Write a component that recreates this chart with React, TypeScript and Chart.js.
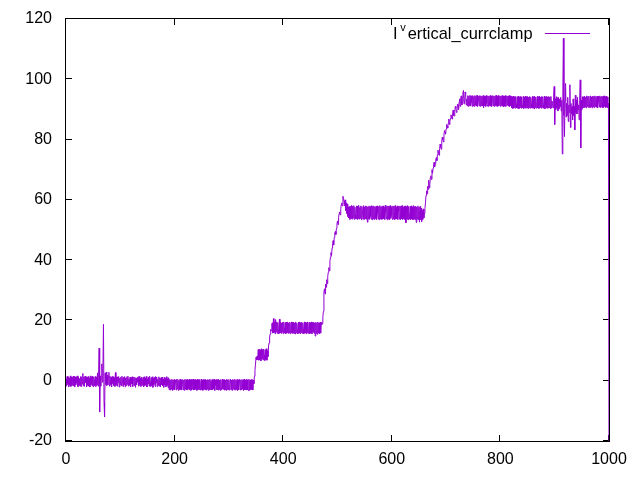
import React, { useEffect, useRef } from "react";
import { Chart, registerables } from "chart.js";

Chart.register(...registerables);

// ---- data ----
const X_STEP = 1;
const xTickValues = [0, 200, 400, 600, 800, 1000];
const yTickValues = [-20, 0, 20, 40, 60, 80, 100, 120];
const seriesLabel = "Iᵛertical_currclamp";
const labelBase = "I";
const labelSup = "v";
const labelRest = "ertical_currclamp";
const lineColor = "#9400D3";

// x 0..59
const baselineA = [0.5, -1.8, 1.4, -1.2, 1.3, -2.0, 0.9, -1.5, 1.6, -1.9,
  1.2, -1.6, 0.3, 1.4, -1.7, 1.5, -2.1, 1.1, -1.4, 1.3,
  -0.8, 1.6, -2.0, 1.2, -1.6, 0.7, -1.8, 1.4, -1.9, 1.3,
  -1.1, 2.4, -1.7, 1.2, -1.9, 1.5, -0.6, 1.3, -2.0, 1.1,
  -1.5, 1.4, -1.8, 0.9, -2.1, 1.6, -1.3, 1.2, -1.7, 1.5,
  -2.0, 1.3, 0.2, -1.6, 1.4, -1.9, 1.1, -1.4, 2.6, -1.8];
// x 60..76
const spikeA = [1.2, 10.8, -10.4, 1.5, -1.8, 2.0, 5.6, -0.5, 4.0, 18.7,
  -7.2, -12.0, 2.5, -1.2, 2.9, -1.6, 1.8];
// x 77..189
const baselineB = [-1.4, 1.2, 2.8, -1.8, 1.5, -1.3, 1.1, -2.0, 1.4, -0.9,
  1.3, -1.6, 1.0, -1.9, 2.7, -1.5, 1.2, -1.8, 1.3, -0.6,
  1.4, -2.1, 0.8, -1.4, 1.2, -1.7, 1.5, 0.2, -1.9, 1.1,
  -1.3, 1.4, -2.0, 0.9, -1.6, 1.3, -1.2, 1.5, -1.8, 0.6,
  -1.5, 1.2, -2.0, 1.0, -1.1, 1.3, -1.9, 0.4, 1.2, -1.6,
  1.1, -2.2, 0.8, -1.4, 1.0, -0.5, 1.3, -1.8, 1.4, -1.2,
  0.7, -1.9, 1.2, -1.5, 0.3, 1.1, -2.0, 1.3, -1.7, 0.9,
  -1.3, 1.4, -2.1, 0.6, -1.0, 1.2, -1.8, 1.5, -0.4, -1.9,
  1.0, -1.6, 1.3, -2.2, 0.8, -1.2, 1.1, -1.9, 1.4, -0.7,
  1.2, -2.0, 0.5, -1.5, 1.3, -1.8, 0.9, -2.1, 1.0, -1.3,
  1.2, -1.7, 0.4, -2.2, 1.1, -1.4, 0.8, -2.0, 1.3, -1.6,
  0.6, -2.3, 1.0];
// x 190..345
const baselineC = [-3.0, 0.4, -3.1, 0.3, -2.8, 0.5, -3.2, 0.2, -2.9, 0.4,
  -3.0, -0.5, 0.3, -3.1, 0.5, -2.7, 0.4, -3.2, 0.1, -3.0,
  0.5, -2.9, 0.3, -3.1, -1.0, 0.4, -3.0, 0.2, -3.2, 0.5,
  -2.8, 0.3, -3.0, 0.4, -3.1, 0.2, -2.6, 0.5, -3.0, 0.3,
  -3.2, 0.4, -2.9, -0.2, 0.5, -3.1, 0.3, -3.0, 0.4, -2.8,
  0.2, -3.2, 0.5, -3.0, 0.3, -2.9, 0.4, -3.1, -0.8, 0.5,
  -3.0, 0.2, -3.2, 0.4, -2.9, 0.3, -3.0, 0.5, -3.1, 0.2,
  -2.8, 0.4, -3.2, 0.3, -3.0, 0.5, -2.9, 0.1, -3.1, 0.4,
  -3.0, 0.3, -2.7, 0.5, -3.2, 0.2, -1.5, 0.4, -3.0, 0.3,
  -3.1, 0.5, -2.9, 0.2, -3.2, 0.4, -3.0, -0.3, 0.5, -2.8,
  0.3, -3.1, 0.4, -3.0, 0.2, -3.2, 0.5, -2.9, 0.3, -3.0,
  0.4, -3.1, -1.2, 0.5, -3.0, 0.2, -3.2, 0.4, -2.8, 0.3,
  -3.0, 0.5, -3.1, 0.2, -2.9, 0.4, -3.2, 0.3, -3.0, -0.6,
  0.5, -3.1, 0.2, -3.0, 0.4, -2.8, 0.3, -3.2, 0.5, -3.0,
  0.2, -2.9, 0.4, -3.1, 0.3, -3.0, -3.3, 0.5, -3.2, 0.2,
  -3.0, 0.4, -2.9, 0.3, -3.1, 0.1];
// x 346..379
const stepOne = [-1.0, 1.5, 3.5, 5.5, 7.8, 6.9, 8.2, 7.0, 10.3, 6.8,
  10.5, 7.0, 10.2, 6.6, 10.6, 7.2, 10.4, 6.9, 10.5, 8.5,
  6.7, 10.3, 7.0, 10.6, 6.8, 9.9, 8.0, 11.5, 12.5, 14.5,
  15.5, 17.0, 16.5, 18.8];
// x 380..471
const stepTwo = [19.2, 15.8, 20.6, 16.0, 19.4, 15.6, 20.3, 16.2, 19.5, 15.7,
  19.3, 17.0, 15.6, 20.4, 15.9, 19.5, 15.7, 19.2, 16.1, 19.4,
  15.6, 19.5, 17.5, 15.8, 19.3, 15.6, 19.4, 16.0, 19.5, 15.7,
  19.2, 15.9, 19.4, 15.6, 18.5, 19.5, 15.8, 19.3, 15.7, 19.4,
  15.7, 19.2, 15.5, 19.5, 15.9, 19.1, 16.8, 15.6, 19.4, 15.8,
  19.5, 15.6, 19.3, 16.0, 19.4, 15.7, 19.2, 17.2, 15.6, 19.5,
  15.8, 19.4, 15.6, 19.3, 15.9, 19.5, 15.7, 18.0, 19.4, 15.6,
  19.2, 15.8, 19.5, 15.6, 19.3, 16.1, 19.4, 15.7, 19.2, 14.8,
  19.4, 15.7, 19.2, 15.4, 19.5, 15.9, 19.1, 15.6, 19.4, 15.8,
  19.3, 18.6];
// x 472..522
const rampOne = [19.0, 21.0, 23.0, 29.5, 30.5, 28.8, 32.0, 31.0, 33.5, 32.2,
  34.5, 36.0, 37.5, 36.5, 39.5, 41.0, 42.5, 41.5, 44.0, 45.5,
  46.5, 45.0, 47.5, 49.0, 49.5, 48.5, 50.5, 52.0, 53.0, 51.8,
  54.0, 55.5, 56.0, 55.0, 57.0, 58.5, 59.0, 58.0, 61.2, 60.5,
  59.5, 58.0, 60.0, 56.5, 59.0, 55.5, 58.5, 54.5, 57.5, 54.0,
  57.8];
// x 523..659
const plateauOne = [53.5, 57.8, 53.8, 58.2, 53.6, 57.9, 54.0, 58.1, 53.5, 57.6,
  55.0, 53.7, 58.0, 53.5, 57.9, 53.8, 58.2, 53.6, 57.5, 53.9,
  58.0, 53.4, 57.8, 56.0, 53.6, 58.1, 53.5, 57.7, 53.8, 58.0,
  53.6, 57.9, 52.6, 57.6, 53.7, 58.0, 53.5, 57.8, 54.5, 53.6,
  58.1, 53.4, 57.9, 53.7, 58.0, 53.5, 57.6, 53.8, 57.9, 53.5,
  58.0, 55.5, 53.6, 57.8, 53.4, 58.1, 53.7, 57.7, 53.5, 57.9,
  53.6, 58.0, 53.8, 57.6, 53.5, 58.2, 55.8, 53.7, 57.9, 53.4,
  58.0, 53.6, 57.8, 53.5, 58.1, 53.9, 57.7, 54.8, 53.5, 58.0,
  53.7, 57.9, 53.4, 58.1, 53.6, 57.5, 53.8, 58.0, 53.5, 57.8,
  56.2, 53.6, 58.0, 53.4, 57.9, 53.7, 58.1, 53.5, 57.6, 53.8,
  57.9, 53.5, 58.0, 52.4, 57.7, 53.6, 58.1, 53.4, 57.8, 55.2,
  53.6, 57.9, 53.5, 58.0, 53.7, 57.6, 53.4, 58.1, 53.6, 57.8,
  53.5, 57.9, 52.5, 57.6, 53.6, 58.0, 53.4, 57.5, 52.6, 57.8,
  53.5, 57.2, 52.8, 56.5, 53.5, 57.0, 54.0];
// x 660..737
const rampTwo = [55.5, 57.0, 59.0, 61.5, 63.0, 62.0, 64.5, 63.5, 66.5, 64.0,
  65.0, 67.5, 68.0, 66.8, 70.0, 68.8, 70.5, 71.8, 72.5, 71.0,
  72.0, 73.5, 74.0, 73.0, 75.0, 76.5, 75.5, 74.8, 77.0, 78.5,
  77.5, 76.8, 79.5, 80.8, 80.0, 79.2, 81.5, 83.0, 82.5, 81.8,
  83.5, 85.0, 84.5, 83.8, 85.5, 86.8, 85.0, 86.0, 87.0, 88.2,
  87.5, 86.8, 88.5, 89.8, 88.0, 87.8, 89.5, 91.0, 90.5, 89.0,
  89.5, 91.8, 91.5, 90.0, 92.5, 93.5, 91.0, 93.8, 94.5, 91.5,
  92.5, 95.5, 96.3, 91.8, 92.0, 95.8, 95.0, 91.5];
// x 738..819
const plateauTopA = [93.5, 91.2, 94.6, 91.0, 94.4, 91.3, 94.7, 91.1, 94.5, 92.5,
  91.0, 94.6, 91.2, 94.3, 91.0, 94.6, 91.4, 94.5, 91.1, 94.7,
  91.0, 93.0, 94.4, 91.2, 94.6, 91.0, 94.5, 91.3, 94.4, 91.1,
  94.6, 90.6, 94.5, 91.2, 94.3, 91.0, 94.6, 92.0, 91.1, 94.5,
  91.0, 94.4, 91.3, 94.6, 91.1, 94.5, 91.0, 92.8, 94.6, 91.2,
  94.4, 91.0, 94.5, 91.3, 94.7, 91.1, 94.3, 91.0, 94.6, 91.2,
  92.2, 94.5, 91.0, 94.4, 91.3, 94.6, 91.1, 94.5, 90.8, 94.4,
  91.2, 94.6, 91.0, 93.2, 94.5, 91.3, 94.4, 91.1, 94.6, 91.0,
  94.5, 91.2];
// x 820..895
const plateauTopB = [94.3, 90.5, 94.2, 90.3, 94.4, 90.6, 94.1, 90.4, 94.3, 91.8,
  90.5, 94.2, 90.4, 94.4, 90.2, 94.1, 90.6, 94.3, 90.4, 94.2,
  91.3, 90.5, 94.3, 90.3, 94.1, 90.6, 94.4, 90.4, 94.2, 90.5,
  94.3, 90.3, 94.1, 90.6, 94.3, 90.4, 94.0, 91.8, 90.5, 94.3,
  90.4, 94.2, 90.2, 94.4, 90.6, 94.1, 90.4, 92.3, 94.3, 90.5,
  94.2, 90.3, 94.4, 90.7, 94.1, 90.4, 94.3, 90.6, 94.2, 91.5,
  90.4, 94.4, 90.2, 94.1, 90.6, 94.3, 90.4, 94.2, 90.5, 94.3,
  90.6, 94.1, 90.3, 94.3, 90.5, 92.8];
// x 896..952
const disturbance = [92.0, 90.5, 94.0, 97.6, 85.0, 93.5, 90.0, 94.2, 90.5, 93.8,
  89.5, 94.0, 90.2, 93.5, 91.0, 94.0, 89.5, 93.0, 75.2, 96.0,
  113.6, 88.0, 81.0, 93.0, 98.6, 87.5, 92.0, 88.0, 94.0, 86.0,
  91.5, 89.0, 98.2, 84.0, 92.0, 88.5, 91.0, 86.5, 93.5, 88.0,
  91.0, 83.2, 94.7, 89.0, 93.0, 88.5, 94.0, 90.0, 91.5, 86.5,
  93.0, 99.8, 77.2, 93.0, 90.0, 94.2, 90.5];
// x 953..999
const plateauTopC = [94.2, 90.6, 94.4, 90.8, 94.1, 90.5, 94.5, 91.0, 94.3, 90.7,
  94.4, 92.0, 90.6, 94.5, 90.8, 94.2, 90.5, 94.4, 90.9, 94.3,
  90.6, 94.5, 91.0, 94.2, 90.7, 94.4, 90.5, 94.3, 92.5, 90.8,
  94.5, 90.6, 94.2, 90.9, 94.4, 90.5, 94.3, 90.7, 94.5, 91.0,
  94.2, 90.6, 94.4, 90.8, 94.1, 90.5, 92.0];
// x 1000
const finalDrop = [-25];

const segments: [number, number[]][] = [
  [0, baselineA], [60, spikeA], [77, baselineB], [190, baselineC],
  [346, stepOne], [380, stepTwo], [472, rampOne], [523, plateauOne],
  [660, rampTwo], [738, plateauTopA], [820, plateauTopB], [896, disturbance],
  [953, plateauTopC], [1000, finalDrop],
];

function buildPoints() {
  const pts: { x: number; y: number }[] = [];
  for (const [start, vals] of segments) {
    vals.forEach((v, k) => pts.push({ x: start + k * X_STEP, y: v }));
  }
  return pts;
}

const FONT = '"Liberation Sans", Arial, sans-serif';
const TICK = 6;

const framePlugin = {
  id: "gnuFrame",
  beforeDatasetsDraw(chart: any) {
    const { ctx, chartArea: a, scales } = chart;
    ctx.save();
    ctx.strokeStyle = "#000";
    ctx.lineWidth = 1;
    ctx.strokeRect(a.left - 0.5, a.top - 0.5, a.right - a.left + 1, a.bottom - a.top + 1);
    ctx.beginPath();
    for (const v of xTickValues) {
      const px = Math.round(scales.x.getPixelForValue(v)) - 0.5;
      ctx.moveTo(px, a.bottom);
      ctx.lineTo(px, a.bottom - TICK);
      ctx.moveTo(px, a.top);
      ctx.lineTo(px, a.top + TICK);
    }
    for (const v of yTickValues) {
      const py = Math.round(scales.y.getPixelForValue(v)) - 0.5;
      ctx.moveTo(a.left, py);
      ctx.lineTo(a.left + TICK, py);
      ctx.moveTo(a.right, py);
      ctx.lineTo(a.right - TICK, py);
    }
    ctx.stroke();
    ctx.restore();
  },
};

const legendPlugin = {
  id: "gnuKey",
  afterDraw(chart: any) {
    const { ctx, chartArea: a } = chart;
    ctx.save();
    const textEnd = a.right - 76.5;
    const base = a.top + 19.5;
    ctx.fillStyle = "#000";
    ctx.textBaseline = "alphabetic";
    ctx.textAlign = "right";
    ctx.font = `16.4px ${FONT}`;
    ctx.fillText(labelRest, textEnd, base);
    const wRest = ctx.measureText(labelRest).width;
    const restStart = textEnd - wRest;
    ctx.textAlign = "left";
    ctx.font = `11px ${FONT}`;
    ctx.fillText(labelSup, restStart - 7.5, base - 7.5);
    ctx.font = `16.4px ${FONT}`;
    ctx.fillText(labelBase, restStart - 14.8, base);
    ctx.strokeStyle = lineColor;
    ctx.lineWidth = 1;
    ctx.beginPath();
    ctx.moveTo(a.right - 64, a.top + 14.5);
    ctx.lineTo(a.right - 19, a.top + 14.5);
    ctx.stroke();
    ctx.restore();
  },
};

export default function App() {
  const canvasRef = useRef<HTMLCanvasElement | null>(null);

  useEffect(() => {
    if (!canvasRef.current) return;
    const chart = new Chart(canvasRef.current, {
      type: "line",
      data: {
        datasets: [
          {
            label: seriesLabel,
            data: buildPoints(),
            borderColor: lineColor,
            backgroundColor: lineColor,
            borderWidth: 1,
            pointRadius: 0,
            tension: 0,
            fill: false,
          },
        ],
      },
      options: {
        responsive: false,
        animation: false,
        events: [],
        layout: { padding: { top: 19, right: 31, left: 0, bottom: 0 } },
        plugins: { legend: { display: false }, tooltip: { enabled: false } },
        scales: {
          x: {
            type: "linear",
            min: 0,
            max: 1000,
            afterFit: (s: any) => { s.height = 39; s.paddingLeft = 0; s.paddingRight = 0; },
            afterBuildTicks: (s: any) => { s.ticks = xTickValues.map((v) => ({ value: v })); },
            grid: { display: false, drawTicks: false },
            border: { display: false },
            ticks: {
              color: "#000",
              font: { family: FONT, size: 16 },
              padding: 9,
              maxRotation: 0,
              callback: (v: any) => String(v),
            },
          },
          y: {
            type: "linear",
            min: -20,
            max: 120,
            afterFit: (s: any) => { s.width = 66; s.paddingTop = 0; s.paddingBottom = 0; },
            afterBuildTicks: (s: any) => { s.ticks = yTickValues.map((v) => ({ value: v })); },
            grid: { display: false, drawTicks: false },
            border: { display: false },
            ticks: {
              color: "#000",
              font: { family: FONT, size: 16 },
              padding: 14,
              callback: (v: any) => String(v),
            },
          },
        },
      },
      plugins: [framePlugin, legendPlugin],
    });
    return () => chart.destroy();
  }, []);

  return (
    <div style={{ position: "absolute", left: 0, top: 0, width: 640, height: 480, background: "#fff" }}>
      <canvas ref={canvasRef} width={640} height={480} />
    </div>
  );
}
